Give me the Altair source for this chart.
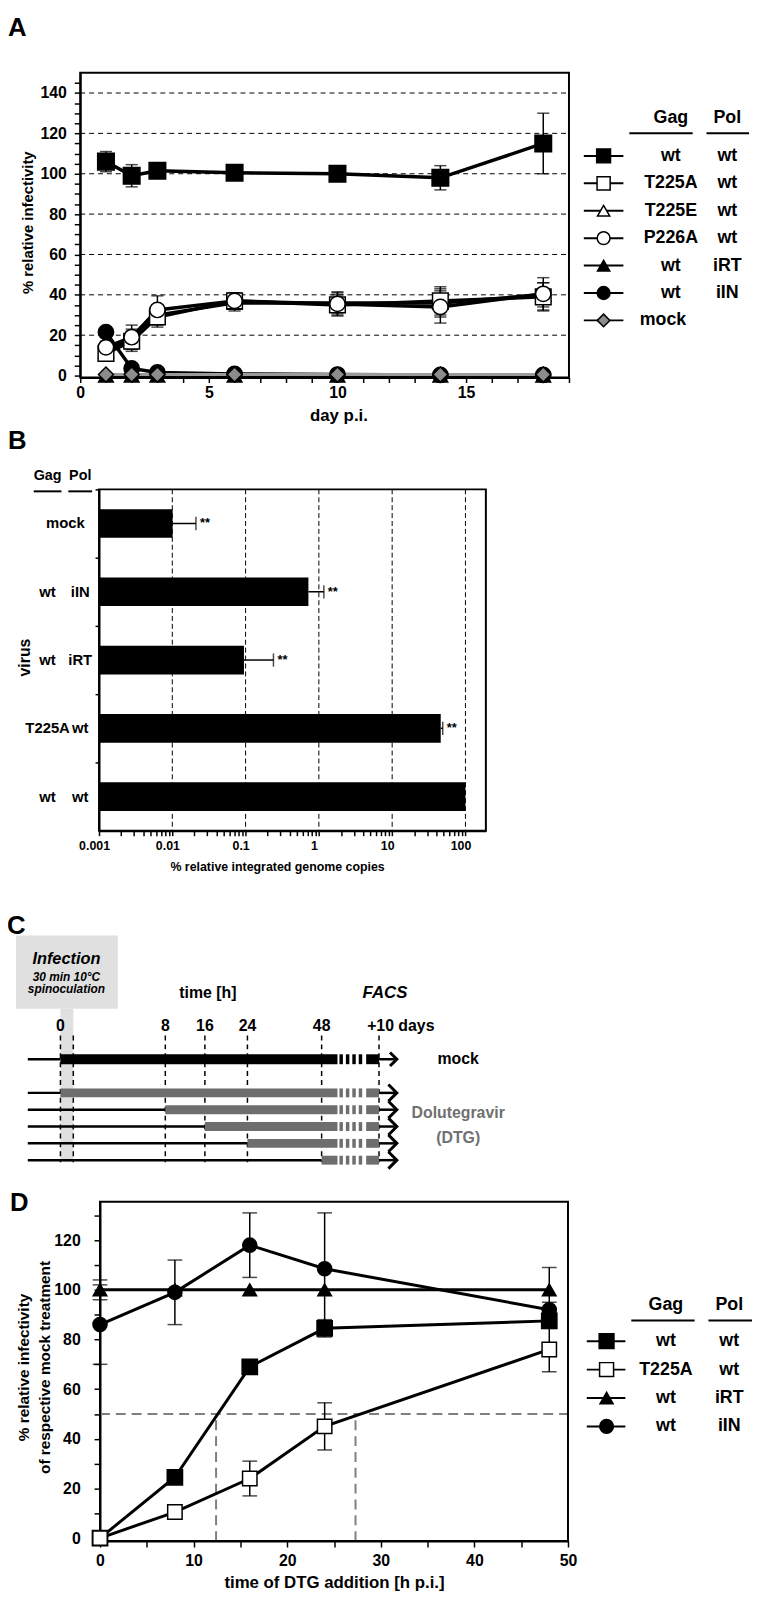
import altair as alt
import pandas as pd

FONT = "Liberation Sans, Arial, Helvetica, sans-serif"

# ---------------- Panel A : infectivity over time ----------------
A_DAYS = [1, 2, 3, 6, 10, 14, 18]
A_KEYS = ["wt_wt", "T225A_wt", "T225E_wt", "P226A_wt", "wt_iRT", "wt_iIN", "mock"]
A_GAG = ["wt", "T225A", "T225E", "P226A", "wt", "wt", "mock"]
A_POL = ["wt", "wt", "wt", "wt", "iRT", "iIN", ""]
A_MEAN = {
    "wt_wt":    [106, 99, 101.5, 100.5, 100, 98, 115],
    "T225A_wt": [11, 17, 29, 37, 35, 37, 39],
    "T225E_wt": [12, 18, 30, 36, 36, 36, 40],
    "P226A_wt": [14, 19, 32.5, 37, 35.5, 34, 40.5],
    "wt_iRT":   [0, 0, 0, 0, 0, 0, 0],
    "wt_iIN":   [21.5, 3.5, 1.5, 0.8, 0.5, 0.3, 0.3],
    "mock":     [0.5, 0.5, 0.5, 0.5, 0.5, 0.5, 0.5],
}
A_SD = {
    "wt_wt":    [5, 5.5, 2, 2, 2, 6, 15],
    "T225A_wt": [3, 5, 5, 4, 5, 7, 7],
    "T225E_wt": [3, 5, 5, 4, 5, 7, 6],
    "P226A_wt": [3, 6, 7, 4, 6, 8, 8],
    "wt_iRT":   [0, 0, 0, 0, 0, 0, 0],
    "wt_iIN":   [1.5, 1, 0.5, 0.3, 0.3, 0.2, 0.2],
    "mock":     [0, 0, 0, 0, 0, 0, 0],
}
A_GRID = [20, 40, 60, 80, 100, 120, 140]
A_XDOM = [0, 19]
A_YDOM = [-1, 150]

# ---------------- Panel B : integrated genome copies ----------------
B_VIRUS = ["mock", "wt iIN", "wt iRT", "T225A wt", "wt wt"]
B_GAG = ["mock", "wt", "wt", "T225A", "wt"]
B_POL = ["", "iIN", "iRT", "wt", "wt"]
B_MEAN = [0.0101, 0.72, 0.095, 46, 100]
B_UPPER = [0.021, 1.17, 0.24, 49, None]
B_SIG = ["**", "**", "**", "**", ""]
B_XDOM = [0.001, 190]
B_DECADES = [0.001, 0.01, 0.1, 1, 10, 100]

# ---------------- Panel C : scheme ----------------
C_TICK_TEXT = ["0", "8", "16", "24", "48", "+10 days"]
C_ROWS = ["mock", "DTG 0 h", "DTG 8 h", "DTG 16 h", "DTG 24 h", "DTG 48 h"]

# ---------------- Panel D : time of addition ----------------
D_TIME = [0, 8, 16, 24, 48]
D_KEYS = ["wt_wt", "T225A_wt", "wt_iRT", "wt_iIN"]
D_GAG = ["wt", "T225A", "wt", "wt"]
D_POL = ["wt", "wt", "iRT", "iIN"]
D_MEAN = {
    "wt_wt":    [0, 24.5, 69, 84.5, 87.5],
    "T225A_wt": [0, 10.5, 24, 45, 76],
    "wt_iRT":   [100, 100, 100, 100, 100],
    "wt_iIN":   [86, 99, 118, 108.5, 92],
}
D_SD = {
    "wt_wt":    [0, 1, 1, 3.5, 3],
    "T225A_wt": [0, 1.5, 7, 9.5, 9],
    "wt_iRT":   [4, 0, 0, 0, 9],
    "wt_iIN":   [16, 13, 13, 22.5, 3],
}
D_HALF = 50
D_IC50 = [12.4, 27.3]
D_XDOM = [0, 50]
D_YDOM = [-1.2, 135.5]

# ---------------- styles & layout ----------------
STYLE = {
    "wt_wt":    dict(shape="square", fill="black", size=280, z=7),
    "T225A_wt": dict(shape="square", fill="white", size=250, z=4),
    "T225E_wt": dict(shape="triangle-up", fill="white", size=220, z=3),
    "P226A_wt": dict(shape="circle", fill="white", size=240, z=5),
    "wt_iRT":   dict(shape="triangle-up", fill="black", size=220, z=1),
    "wt_iIN":   dict(shape="circle", fill="black", size=240, z=2),
    "mock":     dict(shape="diamond", fill="#8c8c8c", size=230, z=6),
}
D_Z = {"wt_iRT": 1, "wt_iIN": 2, "wt_wt": 3, "T225A_wt": 4}
CAP = "M-1,0L1,0"
VCAP = "M0,-1L0,1"
CHEVRON = "M-1,-1L0,0L-1,1"

O = 5            # view origin (reference pixels)
W, H = 753, 1590  # view size


def V(v):
    return v - O


NOAX = dict(scale=None, axis=None)


def ax(**kw):
    base = dict(domainColor="black", domainWidth=2, tickColor="black", tickWidth=1.5,
                labelColor="black", labelFont=FONT, labelFontWeight="bold", labelFontSize=16,
                labelFlush=False, labelOverlap=False, grid=False,
                titleColor="black", titleFont=FONT, titleFontWeight="bold", titleFontSize=15)
    base.update(kw)
    return alt.Axis(**base)


def pix_text(items, size, italic=False, color="black", align="center", angle=0, baseline="middle"):
    df = pd.DataFrame(items, columns=["t", "x", "y"])
    df["x"] = df["x"].map(V)
    df["y"] = df["y"].map(V)
    kw = dict(fontWeight="bold", font=FONT, color=color, baseline=baseline, align=align,
              fontSize=size)
    if italic:
        kw["fontStyle"] = "italic"
    if angle:
        kw["angle"] = angle
    return alt.Chart(df).mark_text(**kw).encode(
        x=alt.X("x:Q", **NOAX), y=alt.Y("y:Q", **NOAX), text="t:N")


# ================= Panel A =================
rowsA = []
for k in A_KEYS:
    st = STYLE[k]
    for d, m, s in zip(A_DAYS, A_MEAN[k], A_SD[k]):
        rowsA.append(dict(key=k, day=d, mean=m, lo=m - s, hi=m + s, sd=s,
                          shape=st["shape"], fill=st["fill"], size=st["size"], z=st["z"]))
dfA = pd.DataFrame(rowsA).sort_values(["z", "day"]).reset_index(drop=True)

sxA = alt.Scale(domain=A_XDOM, range=[V(78), V(572)], nice=False, zero=False)
syA = alt.Scale(domain=A_YDOM, range=[V(370), V(62)], nice=False, zero=False)
axAx = ax(orient="bottom", offset=V(370) - H, values=list(range(0, 20)),
          labelExpr="datum.value % 5 == 0 ? datum.label : ''",
          tickSize=5, labelPadding=2, title="day p.i.", titleFontSize=17,
          titleX=V(339), titleY=38, titleBaseline="middle")
axAy = ax(orient="left", offset=-V(78), values=list(range(0, 150, 5)),
          labelExpr="datum.value % 20 == 0 ? datum.label : ''",
          tickSize=6, labelPadding=8, title="% relative infectivity", titleFontSize=15,
          titleX=-53, titleY=V(213), titleAngle=270, titleBaseline="middle")
XA = lambda f: alt.X(f, scale=sxA, axis=axAx)
YA = lambda f: alt.Y(f, scale=syA, axis=axAy)

baseA = alt.Chart(dfA)
gridA = alt.Chart(pd.DataFrame({"g": A_GRID, "x0": A_XDOM[0], "x1": A_XDOM[1]})).mark_rule(
    color="black", strokeWidth=1, strokeDash=[5, 4]).encode(
    x=XA("x0:Q"), x2="x1:Q", y=YA("g:Q"))
frameA = alt.Chart(pd.DataFrame({"x0": [A_XDOM[0]], "x1": [A_XDOM[1]],
                                 "y0": [A_YDOM[0]], "y1": [A_YDOM[1]]})).mark_rect(
    fillOpacity=0, stroke="black", strokeWidth=2).encode(
    x=XA("x0:Q"), x2="x1:Q", y=YA("y0:Q"), y2="y1:Q")
linesA = baseA.transform_filter("datum.key != 'mock'").mark_line(
    color="black", strokeWidth=3.5).encode(x=XA("day:Q"), y=YA("mean:Q"), detail="key:N")
mockLineA = baseA.transform_filter("datum.key == 'mock'").mark_line(
    color="#9a9a9a", strokeWidth=3).encode(x=XA("day:Q"), y=YA("mean:Q"))
errA = baseA.transform_filter("datum.sd > 0").mark_rule(color="black", strokeWidth=1.5).encode(
    x=XA("day:Q"), y=YA("lo:Q"), y2="hi:Q")
capHiA = baseA.transform_filter("datum.sd > 0").mark_point(
    shape=CAP, size=150, color="black", strokeWidth=1.5, filled=False).encode(
    x=XA("day:Q"), y=YA("hi:Q"))
capLoA = baseA.transform_filter("datum.sd > 0").mark_point(
    shape=CAP, size=150, color="black", strokeWidth=1.5, filled=False).encode(
    x=XA("day:Q"), y=YA("lo:Q"))
ptsA = baseA.mark_point(filled=True, stroke="black", strokeWidth=1.5, opacity=1).encode(
    x=XA("day:Q"), y=YA("mean:Q"),
    shape=alt.Shape("shape:N", scale=None), fill=alt.Fill("fill:N", scale=None),
    size=alt.Size("size:Q", scale=None), order=alt.Order("z:Q"))
groupA = alt.layer(gridA, frameA, linesA, mockLineA, errA, capHiA, capLoA, ptsA)


def legend_layers(keys, gag, pol, lay, scale=0.7):
    rows = []
    for i, k in enumerate(keys):
        st = STYLE[k]
        y = V(lay["y0"] + i * lay["dy"])
        rows.append(dict(y=y, x0=V(lay["l0"]), x1=V(lay["l1"]), mx=V(lay["mx"]),
                         shape=st["shape"], fill=st["fill"], size=st["size"] * scale,
                         gag=gag[i], pol=pol[i],
                         gx=V(lay["mock_x"] if pol[i] == "" else lay["gx"]), px=V(lay["px"])))
    df = pd.DataFrame(rows)
    b = alt.Chart(df)
    lines = b.mark_rule(color="black", strokeWidth=2).encode(
        x=alt.X("x0:Q", **NOAX), x2="x1:Q", y=alt.Y("y:Q", **NOAX))
    pts = b.mark_point(filled=True, stroke="black", strokeWidth=1.5, opacity=1).encode(
        x=alt.X("mx:Q", **NOAX), y=alt.Y("y:Q", **NOAX),
        shape=alt.Shape("shape:N", scale=None), fill=alt.Fill("fill:N", scale=None),
        size=alt.Size("size:Q", scale=None))
    tg = b.mark_text(fontSize=18, fontWeight="bold", font=FONT, color="black",
                     baseline="middle").encode(
        x=alt.X("gx:Q", **NOAX), y=alt.Y("y:Q", **NOAX), text="gag:N")
    tp = b.mark_text(fontSize=18, fontWeight="bold", font=FONT, color="black",
                     baseline="middle").encode(
        x=alt.X("px:Q", **NOAX), y=alt.Y("y:Q", **NOAX), text="pol:N")
    hdr = pd.DataFrame({"t": ["Gag", "Pol"], "x": [V(lay["gx"]), V(lay["px"])],
                        "y": [V(lay["hy"])] * 2,
                        "u0": [V(lay["gu"][0]), V(lay["pu"][0])],
                        "u1": [V(lay["gu"][1]), V(lay["pu"][1])],
                        "uy": [V(lay["uy"])] * 2})
    h = alt.Chart(hdr)
    ht = h.mark_text(fontSize=18, fontWeight="bold", font=FONT, color="black",
                     baseline="middle").encode(
        x=alt.X("x:Q", **NOAX), y=alt.Y("y:Q", **NOAX), text="t:N")
    hu = h.mark_rule(color="black", strokeWidth=2).encode(
        x=alt.X("u0:Q", **NOAX), x2="u1:Q", y=alt.Y("uy:Q", **NOAX))
    return alt.layer(lines, pts, tg, tp, ht, hu)


legA = legend_layers(A_KEYS, A_GAG, A_POL,
                     dict(y0=146, dy=27.7, l0=587, l1=627, mx=607, gx=675, px=732, mock_x=667,
                          hy=108, uy=123, gu=(633, 697), pu=(711, 754)))

# ================= Panel B =================
dfB = pd.DataFrame({"virus": B_VIRUS, "gag": B_GAG, "pol": B_POL, "mean": B_MEAN,
                    "upper": B_UPPER, "sig": B_SIG, "base": [B_XDOM[0]] * len(B_VIRUS)})
ticksB = []
for dec in B_DECADES:
    for m in range(1, 10):
        v = round(m * dec, 6)
        if v <= B_XDOM[1]:
            ticksB.append(v)
sxB = alt.Scale(type="log", domain=B_XDOM, range=[V(97), V(488)], nice=False)
syB = alt.Scale(domain=B_VIRUS, range=[V(483), V(828)], paddingInner=0, paddingOuter=0)
axBx = ax(orient="bottom", offset=V(828) - H, values=ticksB,
          labelExpr="abs(log(datum.value)/LN10 - round(log(datum.value)/LN10)) < 0.000001 ? format(datum.value, '~g') : ''",
          tickSize=5, labelPadding=4, labelOffset=-5, labelFontSize=12.5,
          title="% relative integrated genome copies", titleFontSize=12.5,
          titleX=V(277), titleY=36, titleBaseline="middle")
axBy = ax(orient="left", offset=-V(97), labels=False, tickSize=4, bandPosition=0, title=None)
XB = lambda f: alt.X(f, scale=sxB, axis=axBx)
YB = lambda f: alt.Y(f, scale=syB, axis=axBy, sort=B_VIRUS)

bB = alt.Chart(dfB)
gridB = alt.Chart(pd.DataFrame({"g": B_DECADES[1:]})).mark_rule(
    color="black", strokeWidth=1, strokeDash=[5, 3]).encode(
    x=XB("g:Q"), y=alt.value(V(483)), y2=alt.value(V(828)))
frameB = alt.Chart(pd.DataFrame({"x0": [B_XDOM[0]], "x1": [B_XDOM[1]]})).mark_rect(
    fillOpacity=0, stroke="black", strokeWidth=2).encode(
    x=XB("x0:Q"), x2="x1:Q", y=alt.value(V(483)), y2=alt.value(V(828)))
barsB = bB.mark_bar(color="black", size=29).encode(x=XB("mean:Q"), x2="base:Q", y=YB("virus:N"))
errB = bB.transform_filter("isValid(datum.upper)").mark_rule(color="black", strokeWidth=1.5).encode(
    x=XB("mean:Q"), x2="upper:Q", y=YB("virus:N"))
capB = bB.transform_filter("isValid(datum.upper)").mark_point(
    shape=VCAP, size=180, color="black", strokeWidth=1.5, filled=False).encode(
    x=XB("upper:Q"), y=YB("virus:N"))
sigB = bB.transform_filter("isValid(datum.upper)").mark_text(
    align="left", baseline="middle", dx=4, fontSize=13, fontWeight="bold", font=FONT,
    color="black").encode(x=XB("upper:Q"), y=YB("virus:N"), text="sig:N")


def b_label(filt, field, xpos):
    return bB.transform_filter(filt).mark_text(
        align="center", baseline="middle", fontSize=15, fontWeight="bold", font=FONT,
        color="black").encode(x=alt.value(V(xpos)), y=YB("virus:N"), text=f"{field}:N")


labGag = b_label("datum.pol != ''", "gag", 45)
labPol = b_label("datum.pol != ''", "pol", 78)
labMock = b_label("datum.pol == ''", "gag", 63)
groupB = alt.layer(gridB, frameB, barsB, errB, capB, sigB, labGag, labPol, labMock)

hdrB = pix_text([("Gag", 45, 470), ("Pol", 78, 470)], 14.5)
ulB = alt.Chart(pd.DataFrame({"x0": [V(31), V(66)], "x1": [V(59), V(90)], "y": [V(485)] * 2})).mark_rule(
    color="black", strokeWidth=2).encode(
    x=alt.X("x0:Q", **NOAX), x2="x1:Q", y=alt.Y("y:Q", **NOAX))
virusT = pix_text([("virus", 22, 653)], 16, angle=270)

# ================= Panel C (scheme; layout in reference pixels) =================
c_tick_x = [58, 164, 204, 247, 322, 402]
c_dash_x = [58, 71, 164, 204, 247, 322, 380]
c_row_y = [1059, 1093, 1110, 1127, 1144, 1161]
c_row_start = [58, 58, 164, 204, 247, 322]
c_row_color = ["black", "#6e6e6e", "#6e6e6e", "#6e6e6e", "#6e6e6e", "#6e6e6e"]
c_seg = [(340, 343.5), (346.5, 350), (353, 356.5), (359.5, 363), (367, 380)]

segs, thin = [], []
for name, y, s, c in zip(C_ROWS, c_row_y, c_row_start, c_row_color):
    h = 10 if name == "mock" else 9
    segs.append(dict(x=V(s), x2=V(338), y=V(y - h / 2), y2=V(y + h / 2), c=c))
    for a, b in c_seg:
        segs.append(dict(x=V(a), x2=V(b), y=V(y - h / 2), y2=V(y + h / 2), c=c))
    thin.append(dict(x=V(25), x2=V(s), y=V(y)))
    thin.append(dict(x=V(380), x2=V(396), y=V(y)))
dfSeg = pd.DataFrame(segs)
dfThin = pd.DataFrame(thin)
dfChev = pd.DataFrame({"x": [V(398)] * len(C_ROWS), "y": [V(y) for y in c_row_y],
                       "s": [190] + [290] * (len(C_ROWS) - 1)})
dfBox = pd.DataFrame([dict(x=V(13), x2=V(116), y=V(934), y2=V(1008)),
                      dict(x=V(58), x2=V(71), y=V(1008), y2=V(1163))])
dfDash = pd.DataFrame({"x": [V(x) for x in c_dash_x], "y": [V(1035)] * 7, "y2": [V(1163)] * 7})

boxC = alt.Chart(dfBox).mark_rect(color="#e0e0e0").encode(
    x=alt.X("x:Q", **NOAX), x2="x2:Q", y=alt.Y("y:Q", **NOAX), y2="y2:Q")
dashC = alt.Chart(dfDash).mark_rule(color="black", strokeWidth=1.5, strokeDash=[5, 4]).encode(
    x=alt.X("x:Q", **NOAX), y=alt.Y("y:Q", **NOAX), y2="y2:Q")
thinC = alt.Chart(dfThin).mark_rule(color="black", strokeWidth=2.5).encode(
    x=alt.X("x:Q", **NOAX), x2="x2:Q", y=alt.Y("y:Q", **NOAX))
segC = alt.Chart(dfSeg).mark_rect().encode(
    x=alt.X("x:Q", **NOAX), x2="x2:Q", y=alt.Y("y:Q", **NOAX), y2="y2:Q",
    color=alt.Color("c:N", scale=None))
chevC = alt.Chart(dfChev).mark_point(shape=CHEVRON, filled=False, color="black",
                                     strokeWidth=3, opacity=1).encode(
    x=alt.X("x:Q", **NOAX), y=alt.Y("y:Q", **NOAX), size=alt.Size("s:Q", scale=None))
tC1 = pix_text([("Infection", 64, 958)], 16.5, italic=True)
tC1b = pix_text([("FACS", 386, 992)], 17, italic=True)
tC2 = pix_text([("30 min 10°C", 64, 976), ("spinoculation", 64, 988)], 12, italic=True)
tC3 = pix_text([("time [h]", 207, 992)] +
               [(t, x, 1025) for t, x in zip(C_TICK_TEXT, c_tick_x)] +
               [("mock", 460, 1059)], 16)
tC4 = pix_text([("Dolutegravir", 460, 1113), ("(DTG)", 460, 1139)], 16, color="#707070")

# ================= Panel D =================
rowsD = []
for k in D_KEYS:
    st = STYLE[k]
    for t, m, s in zip(D_TIME, D_MEAN[k], D_SD[k]):
        rowsD.append(dict(key=k, t=t, mean=m, lo=m - s, hi=m + s, sd=s,
                          shape=st["shape"], fill=st["fill"], size=st["size"] * 0.85,
                          z=D_Z[k]))
dfD = pd.DataFrame(rowsD).sort_values(["z", "t"]).reset_index(drop=True)

sxD = alt.Scale(domain=D_XDOM, range=[V(98), V(571)], nice=False, zero=False)
syD = alt.Scale(domain=D_YDOM, range=[V(1546), V(1203)], nice=False, zero=False)
axDx = ax(orient="bottom", offset=V(1546) - H, values=list(range(0, 51, 5)),
          labelExpr="datum.value % 10 == 0 ? datum.label : ''",
          tickSize=6, labelPadding=6, title="time of DTG addition [h p.i.]", titleFontSize=17,
          titleX=V(334.5), titleY=42, titleBaseline="middle")
axDy = ax(orient="left", offset=-V(98), values=list(range(0, 131, 10)),
          labelExpr="datum.value % 20 == 0 ? datum.label : ''",
          tickSize=6, labelPadding=14,
          title=["% relative infectivity", "of respective mock treatment"], titleFontSize=15.5,
          titleLineHeight=21, titleX=-77, titleY=V(1370), titleAngle=270, titleBaseline="middle")
XD = lambda f: alt.X(f, scale=sxD, axis=axDx)
YD = lambda f: alt.Y(f, scale=syD, axis=axDy)

bD = alt.Chart(dfD)
halfD = alt.Chart(pd.DataFrame({"h": [D_HALF], "x0": [D_XDOM[0]], "x1": [D_XDOM[1]]})).mark_rule(
    color="#7f7f7f", strokeWidth=2, strokeDash=[10, 6]).encode(
    x=XD("x0:Q"), x2="x1:Q", y=YD("h:Q"))
icD = alt.Chart(pd.DataFrame({"t": D_IC50, "lo": [D_YDOM[0]] * 2, "hi": [D_HALF] * 2})).mark_rule(
    color="#7f7f7f", strokeWidth=2, strokeDash=[10, 6]).encode(
    x=XD("t:Q"), y=YD("lo:Q"), y2="hi:Q")
frameD = alt.Chart(pd.DataFrame({"x0": [D_XDOM[0]], "x1": [D_XDOM[1]],
                                 "y0": [D_YDOM[0]], "y1": [D_YDOM[1]]})).mark_rect(
    fillOpacity=0, stroke="black", strokeWidth=2).encode(
    x=XD("x0:Q"), x2="x1:Q", y=YD("y0:Q"), y2="y1:Q")
linesD = bD.mark_line(color="black", strokeWidth=3).encode(
    x=XD("t:Q"), y=YD("mean:Q"), detail="key:N")
errD = bD.transform_filter("datum.sd > 0").mark_rule(color="black", strokeWidth=1.5).encode(
    x=XD("t:Q"), y=YD("lo:Q"), y2="hi:Q")
capHiD = bD.transform_filter("datum.sd > 0").mark_point(
    shape=CAP, size=220, color="black", strokeWidth=1.5, filled=False).encode(
    x=XD("t:Q"), y=YD("hi:Q"))
capLoD = bD.transform_filter("datum.sd > 0").mark_point(
    shape=CAP, size=220, color="black", strokeWidth=1.5, filled=False).encode(
    x=XD("t:Q"), y=YD("lo:Q"))
ptsD = bD.mark_point(filled=True, stroke="black", strokeWidth=1.5, opacity=1).encode(
    x=XD("t:Q"), y=YD("mean:Q"),
    shape=alt.Shape("shape:N", scale=None), fill=alt.Fill("fill:N", scale=None),
    size=alt.Size("size:Q", scale=None), order=alt.Order("z:Q"))
groupD = alt.layer(halfD, icD, frameD, linesD, errD, capHiD, capLoD, ptsD)

legD = legend_layers(D_KEYS, D_GAG, D_POL,
                     dict(y0=1344, dy=28.7, l0=590, l1=629, mx=610, gx=670, px=734, mock_x=670,
                          hy=1307, uy=1323, gu=(635, 699), pu=(713, 757)), scale=0.8)

letters = pix_text([("A", 5, 25), ("B", 5, 442), ("C", 4, 932), ("D", 7, 1212)], 26,
                   align="left", baseline="alphabetic")

chart = alt.layer(
    groupA, legA, groupB, hdrB, ulB, virusT,
    boxC, dashC, thinC, segC, chevC, tC1, tC1b, tC2, tC3, tC4,
    groupD, legD, letters,
).resolve_scale(x="independent", y="independent").properties(
    width=W, height=H, autosize=alt.AutoSizeParams(type="none"), padding=0,
    view=alt.ViewBackground(strokeOpacity=0, strokeWidth=0, stroke="white"),
).configure(font=FONT).configure_view(stroke="white", strokeOpacity=0, strokeWidth=0)

chart.save("out.html", embed_options={"renderer": "svg", "actions": False})
